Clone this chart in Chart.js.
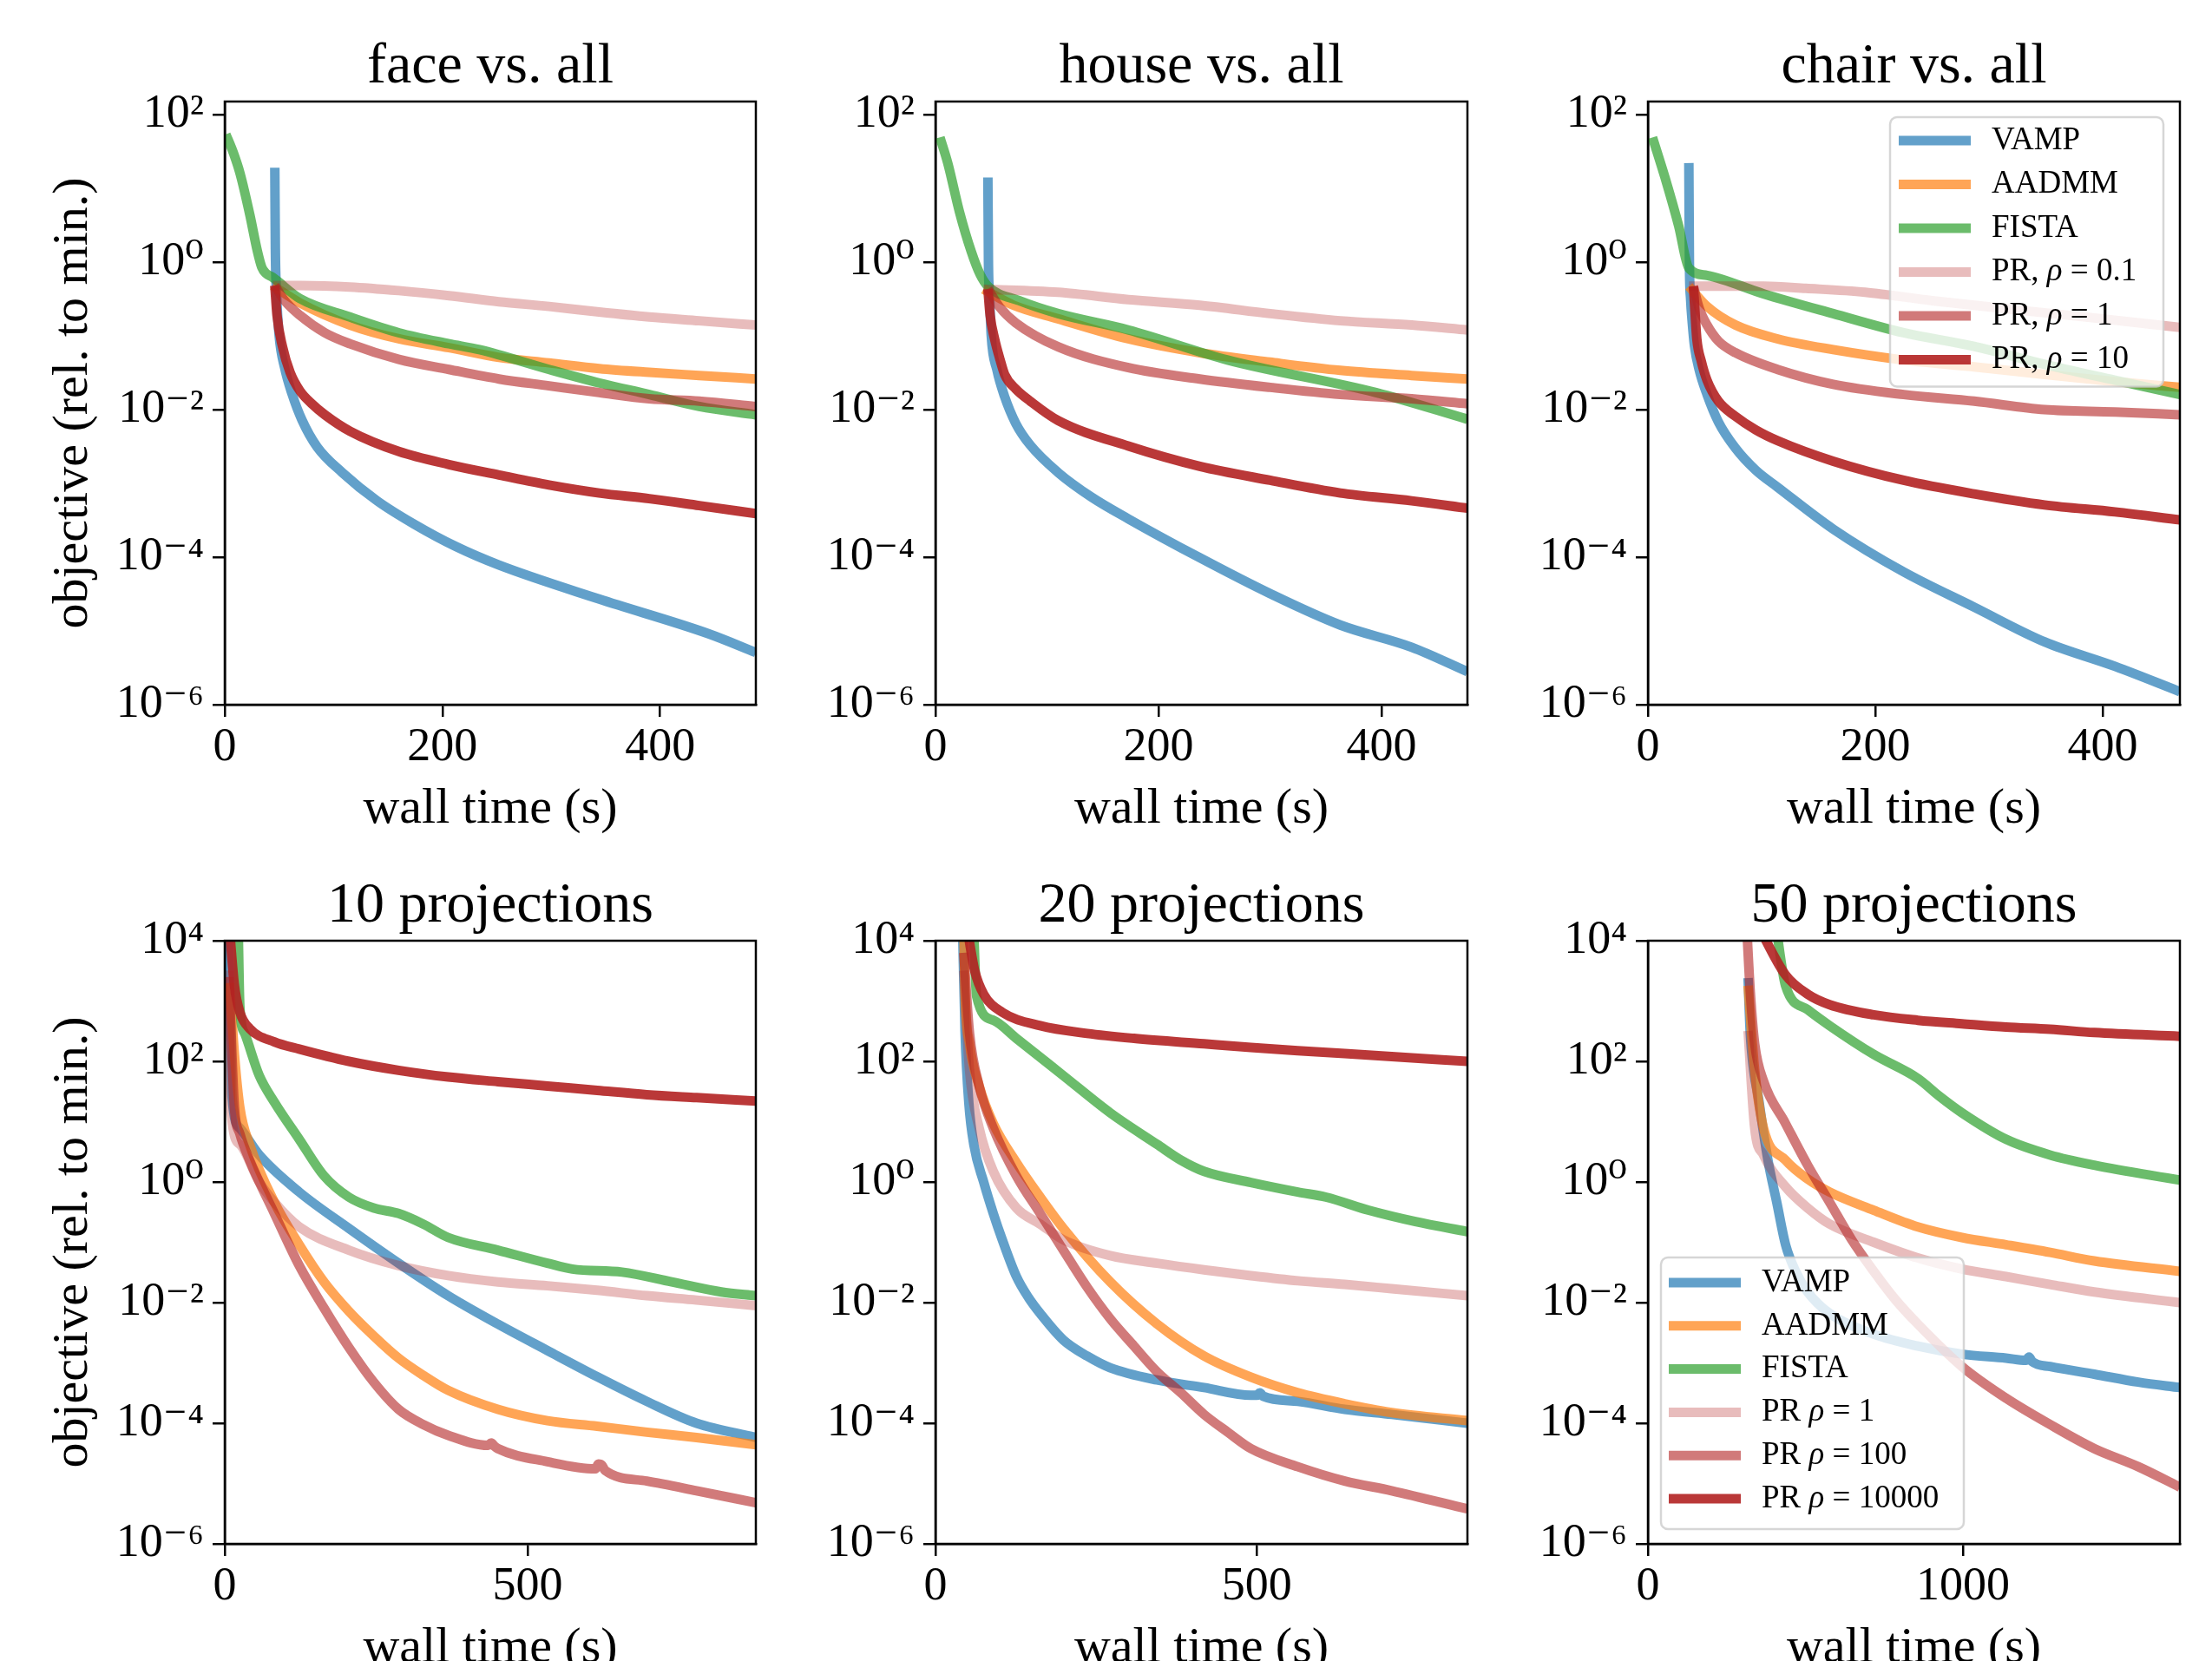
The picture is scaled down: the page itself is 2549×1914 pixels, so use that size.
<!DOCTYPE html>
<html>
<head>
<meta charset="utf-8">
<script src="https://cdn.jsdelivr.net/npm/chart.js@4.4.1/dist/chart.umd.min.js"></script>
<style>
html, body { margin: 0; padding: 0; background: #fff; overflow: hidden; width: 2549px; height: 1914px; }
canvas { position: absolute; }
</style>
</head>
<body>
<script>
// ---------------- DATA ----------------
const panelTitles = ['face vs. all', 'house vs. all', 'chair vs. all', '10 projections', '20 projections', '50 projections'];
const topLabels = ['VAMP', 'AADMM', 'FISTA', 'PR, ρ = 0.1', 'PR, ρ = 1', 'PR, ρ = 10'];
const bottomLabels = ['VAMP', 'AADMM', 'FISTA', 'PR ρ = 1', 'PR ρ = 100', 'PR ρ = 10000'];

const xMaxes = [488, 477, 468, 877, 828, 1689];
const xTickSets = [[0, 200, 400], [0, 200, 400], [0, 200, 400], [0, 500], [0, 500], [0, 1000]];
const xTickLabelSets = [['0', '200', '400'], ['0', '200', '400'], ['0', '200', '400'], ['0', '500'], ['0', '500'], ['0', '1000']];
const yMin = 1e-6;
const topYMax = 150;
const bottomYMax = 1e4;
const topYTicks = [1e-6, 1e-4, 1e-2, 1, 1e2];
const topYTickLabels = ['10⁻⁶', '10⁻⁴', '10⁻²', '10⁰', '10²'];
const bottomYTicks = [1e-6, 1e-4, 1e-2, 1, 1e2, 1e4];
const bottomYTickLabels = ['10⁻⁶', '10⁻⁴', '10⁻²', '10⁰', '10²', '10⁴'];
const xAxisTitle = 'wall time (s)';
const yAxisTitle = 'objective (rel. to min.)';

// face vs. all
const faceVampT = [46, 46.5, 47.5, 50, 55, 62, 71, 85, 108, 140, 174, 212, 252, 344, 445, 488];
const faceVampY = [19, 1.5, 0.4, 0.1, 0.037, 0.016, 0.0072, 0.0031, 0.0014, 0.00058, 0.00028, 0.00014, 7.8e-5, 2.7e-5, 9.1e-6, 5.1e-6];
const faceAadmmT = [44, 69, 115, 160, 206, 252, 298, 344, 390, 436, 488];
const faceAadmmY = [0.48, 0.28, 0.14, 0.091, 0.069, 0.051, 0.043, 0.036, 0.032, 0.029, 0.026];
const faceFistaT = [1, 8, 14, 23, 30, 34, 38, 44, 69, 115, 160, 206, 234, 298, 344, 390, 436, 488];
const faceFistaY = [54, 30, 16, 4.4, 1.4, 0.85, 0.7, 0.62, 0.32, 0.18, 0.11, 0.078, 0.065, 0.035, 0.023, 0.016, 0.011, 0.0085];
const faceRho01T = [44, 69, 115, 160, 206, 252, 298, 344, 390, 436, 488];
const faceRho01Y = [0.48, 0.48, 0.46, 0.41, 0.35, 0.29, 0.25, 0.21, 0.18, 0.16, 0.14];
const faceRho1T = [46, 55, 69, 92, 115, 160, 206, 252, 298, 344, 390, 436, 488];
const faceRho1Y = [0.48, 0.3, 0.19, 0.11, 0.078, 0.048, 0.035, 0.026, 0.021, 0.017, 0.014, 0.013, 0.011];
const faceRho10T = [46, 48, 53, 60, 69, 80, 92, 115, 160, 206, 252, 298, 344, 390, 436, 488];
const faceRho10Y = [0.48, 0.19, 0.072, 0.032, 0.018, 0.012, 0.0085, 0.0051, 0.0027, 0.0018, 0.0013, 0.00095, 0.00074, 0.00062, 0.0005, 0.00039];

// house vs. all
const houseVampT = [47, 47.5, 48.5, 50, 55, 62, 72, 85, 110, 140, 173, 237, 300, 363, 427, 477];
const houseVampY = [14, 1.0, 0.35, 0.1, 0.035, 0.015, 0.0065, 0.0033, 0.0014, 0.00065, 0.00033, 9.8e-5, 3.2e-5, 1.2e-5, 6e-6, 2.8e-6];
const houseAadmmT = [43, 70, 110, 173, 237, 300, 363, 427, 477];
const houseAadmmY = [0.43, 0.26, 0.17, 0.091, 0.059, 0.044, 0.034, 0.029, 0.026];
const houseFistaT = [4, 11, 21.5, 32, 40, 47, 75, 110, 173, 262, 395, 477];
const houseFistaY = [49, 22, 4.8, 1.4, 0.68, 0.47, 0.3, 0.2, 0.12, 0.047, 0.017, 0.0074];
const houseRho01T = [43, 110, 173, 237, 300, 363, 427, 477];
const houseRho01Y = [0.43, 0.39, 0.31, 0.26, 0.2, 0.16, 0.14, 0.12];
const houseRho1T = [47, 58, 72, 110, 173, 237, 300, 363, 427, 477];
const houseRho1Y = [0.43, 0.24, 0.15, 0.071, 0.037, 0.026, 0.02, 0.016, 0.014, 0.012];
const houseRho10T = [47, 49, 53, 58, 62, 72, 85, 110, 173, 237, 300, 363, 427, 477];
const houseRho10Y = [0.43, 0.19, 0.091, 0.047, 0.03, 0.019, 0.013, 0.0071, 0.0032, 0.0017, 0.0011, 0.00074, 0.00058, 0.00046];

// chair vs. all
const chairVampT = [36, 36.5, 37.5, 39, 41, 45, 52, 62, 77, 95, 114, 163, 225, 287, 349, 411, 468];
const chairVampY = [22, 1.0, 0.32, 0.15, 0.072, 0.035, 0.016, 0.0068, 0.003, 0.0015, 0.00089, 0.00024, 6.3e-5, 2.1e-5, 7.1e-6, 3.3e-6, 1.5e-6];
const chairAadmmT = [36, 52, 77, 114, 163, 225, 287, 349, 411, 468];
const chairAadmmY = [0.47, 0.25, 0.14, 0.091, 0.065, 0.047, 0.038, 0.03, 0.024, 0.02];
const chairFistaT = [4, 15, 27, 36, 52, 102, 163, 225, 287, 349, 411, 468];
const chairFistaY = [49, 14, 3.1, 0.83, 0.66, 0.37, 0.2, 0.11, 0.072, 0.041, 0.025, 0.016];
const chairRho01T = [36, 102, 139, 191, 250, 330, 400, 468];
const chairRho01Y = [0.47, 0.47, 0.44, 0.39, 0.3, 0.22, 0.17, 0.13];
const chairRho1T = [40, 45, 52, 62, 77, 114, 163, 225, 287, 349, 411, 468];
const chairRho1Y = [0.47, 0.24, 0.14, 0.085, 0.059, 0.035, 0.022, 0.016, 0.013, 0.01, 0.0093, 0.0085];
const chairRho10T = [40, 41.5, 43, 47, 52, 62, 77, 95, 114, 163, 225, 287, 349, 411, 468];
const chairRho10Y = [0.47, 0.2, 0.091, 0.045, 0.025, 0.013, 0.0081, 0.0053, 0.0038, 0.002, 0.0011, 0.00072, 0.00051, 0.00041, 0.00032];

// 10 projections
const p10VampT = [6, 10, 12, 25, 57, 123, 205, 287, 369, 451, 533, 615, 697, 779, 877];
const p10VampY = [2e4, 320, 26, 7.8, 2.8, 0.68, 0.17, 0.045, 0.013, 0.0044, 0.0016, 0.00059, 0.00023, 0.0001, 5.8e-5];
const p10AadmmT = [8, 16, 25, 41, 82, 123, 164, 205, 246, 287, 328, 369, 451, 533, 615, 697, 779, 877];
const p10AadmmY = [2000, 130, 17, 4.2, 0.46, 0.091, 0.022, 0.0072, 0.0028, 0.0012, 0.00062, 0.00035, 0.00017, 0.00011, 8.9e-5, 7.1e-5, 5.8e-5, 4.4e-5];
const p10FistaT = [22, 25, 33, 57, 82, 123, 164, 205, 246, 287, 328, 369, 451, 533, 574, 656, 738, 820, 877];
const p10FistaY = [2e4, 790, 290, 58, 21, 5.1, 1.26, 0.56, 0.37, 0.3, 0.2, 0.12, 0.074, 0.045, 0.036, 0.032, 0.022, 0.015, 0.013];
const p10Rho1T = [7, 10, 25, 57, 82, 123, 205, 287, 369, 451, 533, 615, 697, 779, 877];
const p10Rho1Y = [3200, 17, 4.2, 1.0, 0.46, 0.18, 0.074, 0.041, 0.028, 0.022, 0.019, 0.016, 0.013, 0.011, 0.0089];
const p10Rho100T = [7, 16, 25, 41, 82, 123, 164, 205, 246, 287, 328, 369, 435, 440, 445, 451, 533, 612, 617, 623, 628, 697, 779, 877];
const p10Rho100Y = [2500, 17, 6.3, 2.3, 0.3, 0.041, 0.0081, 0.0018, 0.00048, 0.00017, 9.5e-5, 6.3e-5, 4.3e-5, 4.7e-5, 4.2e-5, 3.8e-5, 2.3e-5, 1.75e-5, 2.1e-5, 2.0e-5, 1.65e-5, 1.1e-5, 7.6e-6, 4.8e-6];
const p10Rho10000T = [7, 16, 25, 41, 82, 123, 205, 287, 369, 451, 533, 615, 697, 779, 877];
const p10Rho10000Y = [2e4, 1800, 650, 350, 210, 160, 100, 71, 55, 46, 39, 33, 28, 25, 22];

// 20 projections
const p20VampT = [42, 46, 52, 60, 75, 90, 104, 126, 145, 163, 199, 236, 272, 345, 418, 491, 500, 505, 510, 564, 637, 710, 828];
const p20VampY = [2e4, 320, 20, 4, 1.0, 0.3, 0.11, 0.027, 0.012, 0.0066, 0.0024, 0.0013, 0.00083, 0.00052, 0.00039, 0.00029, 0.00029, 0.00032, 0.00028, 0.00023, 0.00017, 0.00014, 0.0001];
const p20AadmmT = [44, 46, 53, 68, 90, 126, 163, 199, 272, 345, 418, 491, 564, 637, 710, 828];
const p20AadmmY = [2e4, 1400, 195, 39, 9.3, 2.1, 0.56, 0.17, 0.022, 0.0044, 0.0013, 0.00058, 0.00032, 0.00021, 0.00015, 0.00011];
const p20FistaT = [59, 64, 90, 126, 199, 272, 345, 382, 418, 491, 564, 608, 674, 747, 828];
const p20FistaY = [2e4, 1200, 480, 240, 58, 14, 4.2, 2.3, 1.5, 0.98, 0.68, 0.56, 0.34, 0.22, 0.15];
const p20Rho1T = [44, 53, 68, 90, 126, 163, 199, 272, 345, 418, 491, 564, 637, 710, 828];
const p20Rho1Y = [3200, 71, 7.8, 1.5, 0.37, 0.2, 0.11, 0.06, 0.045, 0.035, 0.028, 0.023, 0.02, 0.017, 0.013];
const p20Rho100T = [44, 53, 68, 90, 126, 163, 199, 236, 272, 309, 345, 382, 418, 455, 491, 564, 637, 710, 828];
const p20Rho100Y = [6300, 290, 39, 7.8, 1.26, 0.3, 0.074, 0.018, 0.0054, 0.0019, 0.00071, 0.00032, 0.00014, 7.1e-5, 3.8e-5, 1.9e-5, 1.1e-5, 7.6e-6, 3.8e-6];
const p20Rho10000T = [48, 61, 75, 104, 163, 236, 309, 418, 491, 564, 637, 710, 828];
const p20Rho10000Y = [2e4, 3200, 1300, 650, 390, 290, 240, 195, 170, 150, 135, 120, 100];

// 50 projections
const p50VampT = [318, 325, 353, 381, 409, 437, 470, 507, 577, 717, 857, 997, 1137, 1200, 1210, 1220, 1277, 1417, 1557, 1689];
const p50VampY = [2400, 290, 21, 2.3, 0.46, 0.091, 0.032, 0.015, 0.0066, 0.003, 0.0019, 0.0014, 0.0012, 0.0011, 0.00125, 0.00105, 0.00087, 0.00065, 0.00048, 0.00039];
const p50AadmmT = [318, 339, 367, 437, 507, 577, 717, 857, 997, 1137, 1277, 1417, 1689];
const p50AadmmY = [1800, 71, 7.8, 2.3, 1.12, 0.68, 0.34, 0.18, 0.12, 0.091, 0.068, 0.049, 0.033];
const p50FistaT = [405, 437, 507, 577, 717, 857, 927, 997, 1137, 1277, 1417, 1689];
const p50FistaY = [2e4, 1800, 720, 390, 130, 52, 26, 14, 5.1, 2.8, 1.9, 1.07];
const p50Rho1T = [318, 339, 367, 437, 507, 577, 717, 857, 997, 1137, 1277, 1417, 1689];
const p50Rho1Y = [320, 7.8, 2.8, 0.83, 0.37, 0.2, 0.1, 0.055, 0.036, 0.027, 0.02, 0.015, 0.01];
const p50Rho100T = [313, 325, 339, 367, 437, 507, 577, 647, 717, 787, 857, 997, 1137, 1277, 1417, 1557, 1689];
const p50Rho100Y = [2e4, 1400, 195, 47, 9.3, 1.9, 0.46, 0.11, 0.033, 0.011, 0.0044, 0.00087, 0.00026, 9.5e-5, 3.8e-5, 1.9e-5, 8.7e-6];
const p50Rho10000T = [345, 437, 507, 577, 717, 857, 997, 1137, 1277, 1417, 1689];
const p50Rho10000Y = [2e4, 2700, 1300, 870, 590, 480, 420, 370, 340, 300, 260];

const panelSeries = [
  [[faceVampT, faceVampY], [faceAadmmT, faceAadmmY], [faceFistaT, faceFistaY], [faceRho01T, faceRho01Y], [faceRho1T, faceRho1Y], [faceRho10T, faceRho10Y]],
  [[houseVampT, houseVampY], [houseAadmmT, houseAadmmY], [houseFistaT, houseFistaY], [houseRho01T, houseRho01Y], [houseRho1T, houseRho1Y], [houseRho10T, houseRho10Y]],
  [[chairVampT, chairVampY], [chairAadmmT, chairAadmmY], [chairFistaT, chairFistaY], [chairRho01T, chairRho01Y], [chairRho1T, chairRho1Y], [chairRho10T, chairRho10Y]],
  [[p10VampT, p10VampY], [p10AadmmT, p10AadmmY], [p10FistaT, p10FistaY], [p10Rho1T, p10Rho1Y], [p10Rho100T, p10Rho100Y], [p10Rho10000T, p10Rho10000Y]],
  [[p20VampT, p20VampY], [p20AadmmT, p20AadmmY], [p20FistaT, p20FistaY], [p20Rho1T, p20Rho1Y], [p20Rho100T, p20Rho100Y], [p20Rho10000T, p20Rho10000Y]],
  [[p50VampT, p50VampY], [p50AadmmT, p50AadmmY], [p50FistaT, p50FistaY], [p50Rho1T, p50Rho1Y], [p50Rho100T, p50Rho100Y], [p50Rho10000T, p50Rho10000Y]]
];

// ---------------- STYLE / LAYOUT ----------------
const FONT = '"Liberation Serif", "DejaVu Serif", serif';
const COLORS = ['rgba(31,119,180,0.7)', 'rgba(255,127,14,0.7)', 'rgba(44,160,44,0.7)',
                'rgba(178,34,34,0.3)', 'rgba(178,34,34,0.6)', 'rgba(178,34,34,0.9)'];
const LINE_W = 11;
const areaLefts = [259, 1078, 1899];
const areaWidths = [612, 613, 613];
const areaTops = [117, 1084];
const areaH = 695;
const TITLE_BLOCK = 90;
const X_BLOCK = 158;
const RIGHT_PAD = 36;

const framePlugin = {
  id: 'frame',
  afterDraw(chart) {
    const { ctx, chartArea: a } = chart;
    ctx.save();
    ctx.strokeStyle = '#000';
    ctx.lineWidth = 2.5;
    ctx.strokeRect(a.left, a.top, a.right - a.left, a.bottom - a.top);
    ctx.restore();
  }
};

const boxLegendPlugin = {
  id: 'boxLegend',
  afterDatasetsDraw(chart, args, o) {
    if (!o || !o.show) return;
    const ctx = chart.ctx, a = chart.chartArea, ds = chart.data.datasets;
    ctx.save();
    const fontN = o.fontSize + 'px ' + FONT;
    const fontI = 'italic ' + fontN;
    const parts = t => t.split(/(ρ)/).filter(p => p.length);
    const w = o.width;
    const h = o.padTop + (ds.length - 1) * o.rowH + o.padBottom;
    const x0 = o.corner === 'ne' ? a.right - o.dx - w : a.left + o.dx;
    const y0 = o.corner === 'ne' ? a.top + o.dy : a.bottom - o.dy - h;
    const r = 8;
    ctx.beginPath();
    ctx.moveTo(x0 + r, y0);
    ctx.arcTo(x0 + w, y0, x0 + w, y0 + h, r);
    ctx.arcTo(x0 + w, y0 + h, x0, y0 + h, r);
    ctx.arcTo(x0, y0 + h, x0, y0, r);
    ctx.arcTo(x0, y0, x0 + w, y0, r);
    ctx.closePath();
    ctx.fillStyle = 'rgba(255,255,255,0.8)';
    ctx.fill();
    ctx.strokeStyle = 'rgba(204,204,204,0.8)';
    ctx.lineWidth = 2.5;
    ctx.stroke();
    ds.forEach((d, i) => {
      const y = y0 + o.padTop + i * o.rowH;
      ctx.strokeStyle = d.borderColor;
      ctx.lineWidth = d.borderWidth;
      ctx.lineCap = 'butt';
      ctx.beginPath();
      ctx.moveTo(x0 + o.lineX0, y);
      ctx.lineTo(x0 + o.lineX1, y);
      ctx.stroke();
      ctx.fillStyle = '#000';
      ctx.textBaseline = 'middle';
      ctx.textAlign = 'left';
      let x = x0 + o.textX;
      parts(d.label).forEach(p => {
        ctx.font = p === 'ρ' ? fontI : fontN;
        ctx.fillText(p, x, y);
        x += ctx.measureText(p).width;
      });
    });
    ctx.restore();
  }
};

const legendSettings = [
  null, null,
  { show: true, corner: 'ne', dx: 19, dy: 18, width: 315, fontSize: 37, rowH: 50.5, padTop: 27, padBottom: 31, lineX0: 10, lineX1: 93, textX: 117 },
  null, null,
  { show: true, corner: 'sw', dx: 15, dy: 17, width: 349, fontSize: 37, rowH: 49.8, padTop: 29, padBottom: 35, lineX0: 9, lineX1: 92, textX: 116 }
];

for (let p = 0; p < 6; p++) {
  const col = p % 3, row = Math.floor(p / 3);
  const yw = col === 0 ? areaLefts[0] : 200;
  const left = areaLefts[col] - yw;
  const top = areaTops[row] - TITLE_BLOCK;
  const width = yw + areaWidths[col] + RIGHT_PAD;
  const height = TITLE_BLOCK + areaH + X_BLOCK;
  const cv = document.createElement('canvas');
  cv.width = width; cv.height = height;
  cv.style.left = left + 'px'; cv.style.top = top + 'px';
  cv.style.width = width + 'px'; cv.style.height = height + 'px';
  document.body.appendChild(cv);

  const labels = row === 0 ? topLabels : bottomLabels;
  const yTicks = row === 0 ? topYTicks : bottomYTicks;
  const yTickLabels = row === 0 ? topYTickLabels : bottomYTickLabels;
  const xTicks = xTickSets[p], xTickLabels = xTickLabelSets[p];

  const datasets = panelSeries[p].map(([T, Y], i) => ({
    label: labels[i],
    data: T.map((t, k) => ({ x: t, y: Y[k] })),
    borderColor: COLORS[i],
    backgroundColor: COLORS[i],
    borderWidth: LINE_W,
    pointRadius: 0,
    pointHoverRadius: 0,
    fill: false,
    cubicInterpolationMode: 'monotone',
    borderJoinStyle: 'round',
    borderCapStyle: 'butt',
    clip: 0,
    order: 6 - i
  }));

  const tickFont = { family: FONT, size: 54 };
  const titleFont = { family: FONT, size: 58 };

  new Chart(cv, {
    type: 'line',
    data: { datasets },
    options: {
      responsive: false,
      animation: false,
      devicePixelRatio: 1,
      events: [],
      layout: { padding: { left: 0, top: 0, right: RIGHT_PAD, bottom: 0 }, autoPadding: false },
      plugins: {
        legend: { display: false },
        tooltip: { enabled: false },
        title: {
          display: true,
          text: panelTitles[p],
          fullSize: false,
          color: '#000',
          font: { family: FONT, size: 66, weight: 'normal', lineHeight: 1.2 },
          padding: { top: 10.8, bottom: 0 }
        },
        boxLegend: legendSettings[p] || { show: false }
      },
      scales: {
        x: {
          type: 'linear',
          min: 0,
          max: xMaxes[p],
          afterBuildTicks: s => { s.ticks = xTicks.map(v => ({ value: v })); },
          afterFit: s => { s.height = X_BLOCK; },
          ticks: {
            callback: (v, i) => xTickLabels[i],
            autoSkip: false, maxRotation: 0, minRotation: 0,
            color: '#000', font: tickFont, padding: 3
          },
          grid: { display: true, drawOnChartArea: false, drawTicks: true, tickLength: 14, tickWidth: 2.5, lineWidth: 2.5, tickColor: '#000', color: '#000' },
          border: { display: true, color: '#000', width: 2.5 },
          title: { display: true, text: xAxisTitle, color: '#000', font: { ...titleFont, lineHeight: 1.2 }, padding: { top: 0, bottom: 2.2 } }
        },
        y: {
          type: 'logarithmic',
          min: yMin,
          max: row === 0 ? topYMax : bottomYMax,
          afterBuildTicks: s => { s.ticks = yTicks.map(v => ({ value: v })); },
          afterFit: s => { s.width = yw; },
          ticks: {
            callback: (v, i) => yTickLabels[i],
            autoSkip: false,
            color: '#000', font: tickFont, padding: 10
          },
          grid: { display: true, drawOnChartArea: false, drawTicks: true, tickLength: 14, tickWidth: 2.5, lineWidth: 2.5, tickColor: '#000', color: '#000' },
          border: { display: true, color: '#000', width: 2.5 },
          title: { display: col === 0, text: yAxisTitle, color: '#000', font: { ...titleFont, lineHeight: 1.2 }, padding: { top: 49.6, bottom: 0 } }
        }
      }
    },
    plugins: [framePlugin, boxLegendPlugin]
  });
}
</script>
</body>
</html>
